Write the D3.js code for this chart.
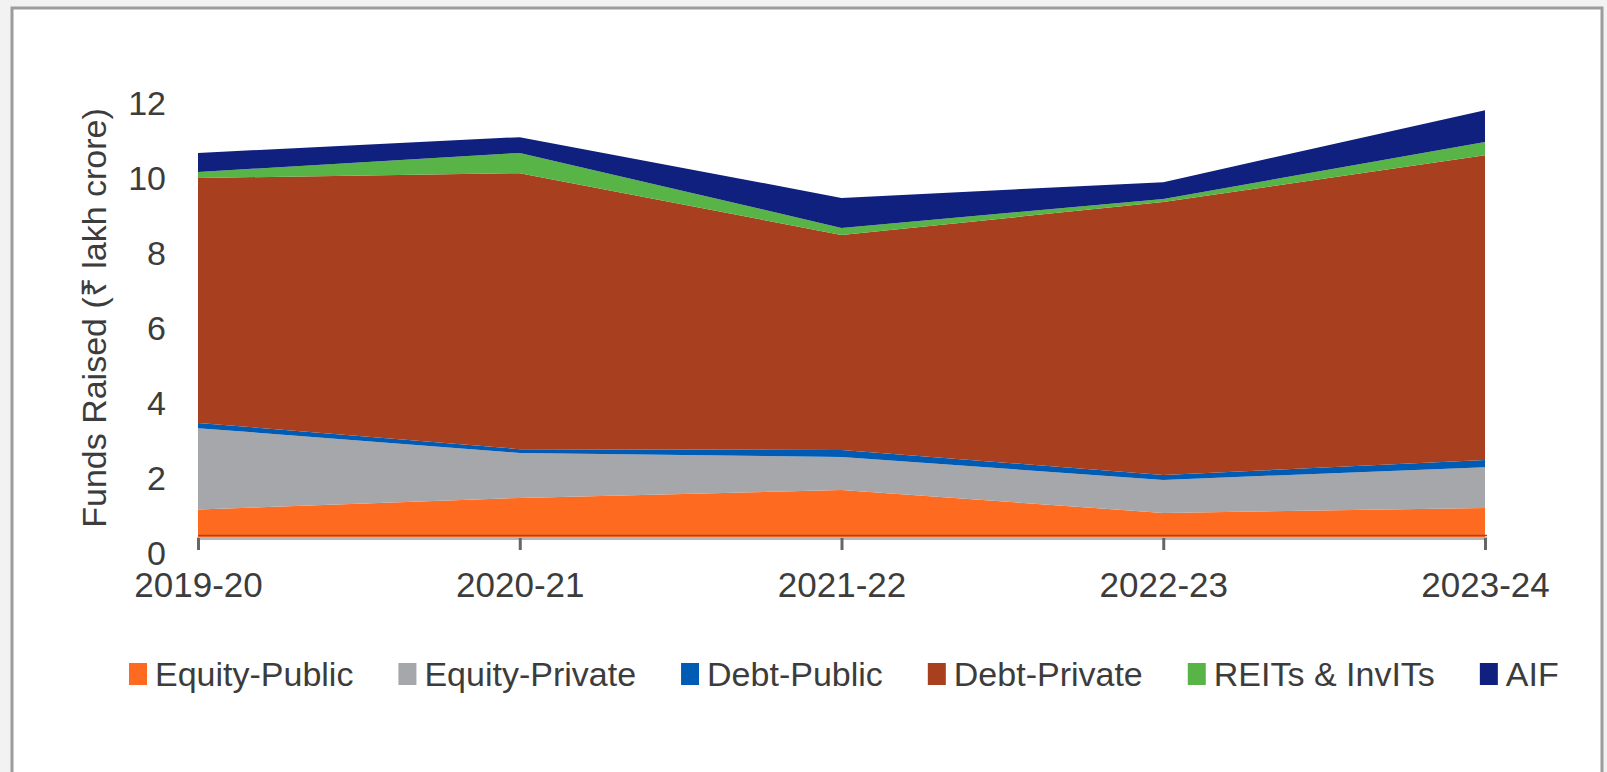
<!DOCTYPE html>
<meta charset="UTF-8">
<style>
body { margin: 0; background: #f2f2f2; }
svg text { font-family: "Liberation Sans", Arial, sans-serif; fill: #3c3c3c; }
</style>
<body>
<script src="https://d3js.org/d3.v7.min.js"></script>
<script>

// years and series values (lakh crore)
var years = ["2019-20", "2020-21", "2021-22", "2022-23", "2023-24"];
var equityPublic  = [0.76, 1.07, 1.28, 0.67, 0.80];
var equityPrivate = [2.17, 1.20, 0.88, 0.88, 1.09];
var debtPublic    = [0.14, 0.10, 0.19, 0.13, 0.19];
var debtPrivate   = [6.53, 7.36, 5.73, 7.28, 8.13];
var reits         = [0.16, 0.54, 0.19, 0.08, 0.35];
var aif           = [0.51, 0.42, 0.80, 0.45, 0.85];
var yTicks = [0, 2, 4, 6, 8, 10, 12];

var seriesNames = ["Equity-Public", "Equity-Private", "Debt-Public", "Debt-Private", "REITs & InvITs", "AIF"];
var seriesValues = [equityPublic, equityPrivate, debtPublic, debtPrivate, reits, aif];
var colors = ["#ff6a21", "#a6a7aa", "#005bb5", "#a83f1e", "#58b446", "#10207e"];

var W = 1607, H = 772;

var svg = d3.select("body").append("svg")
    .attr("width", W)
    .attr("height", H);

// chart frame
svg.append("rect")
    .attr("x", 12).attr("y", 8)
    .attr("width", 1590).attr("height", 800)
    .attr("fill", "#fff")
    .attr("stroke", "#9c9c9c")
    .attr("stroke-width", 3);

var x = d3.scalePoint().domain(years).range([198, 1485]);
var y = d3.scaleLinear().domain([0, 12]).range([538, 88]);

// build table for the stack
var table = years.map(function(yr, i) {
  var row = {year: yr};
  seriesNames.forEach(function(n, k) { row[n] = seriesValues[k][i]; });
  return row;
});

var stack = d3.stack().keys(seriesNames);
var layers = stack(table);

var area = d3.area()
    .x(function(d) { return x(d.data.year); })
    .y0(function(d) { return y(d[0]); })
    .y1(function(d) { return y(d[1]); });

svg.append("g").selectAll("path")
    .data(layers)
    .enter().append("path")
    .attr("d", area)
    .attr("fill", function(d, i) { return colors[i]; });

// x axis
var xAxis = svg.append("g")
    .attr("transform", "translate(0,538)")
    .call(d3.axisBottom(x).tickSize(12).tickPadding(22));
xAxis.select(".domain").attr("stroke", "#b5b5b5").attr("stroke-width", 3);
xAxis.selectAll(".tick line").attr("stroke", "#666").attr("stroke-width", 3);
xAxis.selectAll(".tick text")
    .attr("font-size", "35px")
    .attr("fill", "#3c3c3c")
    .style("font-family", "'Liberation Sans', Arial, sans-serif");

svg.append("line")
    .attr("x1", 198).attr("x2", 1487)
    .attr("y1", 535.5).attr("y2", 535.5)
    .attr("stroke", "#9a4a28")
    .attr("stroke-width", 1.5);

// y axis labels (no line, no ticks)
var yAxis = svg.append("g")
    .attr("transform", "translate(166,16)")
    .call(d3.axisLeft(y).tickValues(yTicks).tickSize(0).tickPadding(0));
yAxis.select(".domain").remove();
yAxis.selectAll(".tick text")
    .attr("font-size", "34px")
    .attr("fill", "#3c3c3c")
    .style("font-family", "'Liberation Sans', Arial, sans-serif");

svg.append("text")
    .attr("transform", "translate(106,318) rotate(-90)")
    .attr("text-anchor", "middle")
    .attr("font-size", "34px")
    .text("Funds Raised (\u20B9 lakh crore)");

// legend
var lg = svg.append("g");
var lx = 129;
seriesNames.forEach(function(n, i) {
  lg.append("rect")
      .attr("x", lx).attr("y", 663)
      .attr("width", 18).attr("height", 22)
      .attr("fill", colors[i]);
  var t = lg.append("text")
      .attr("x", lx + 26).attr("y", 686)
      .attr("font-size", "34px")
      .text(n);
  lx += 26 + t.node().getComputedTextLength() + 45;
});

</script>
</body>
